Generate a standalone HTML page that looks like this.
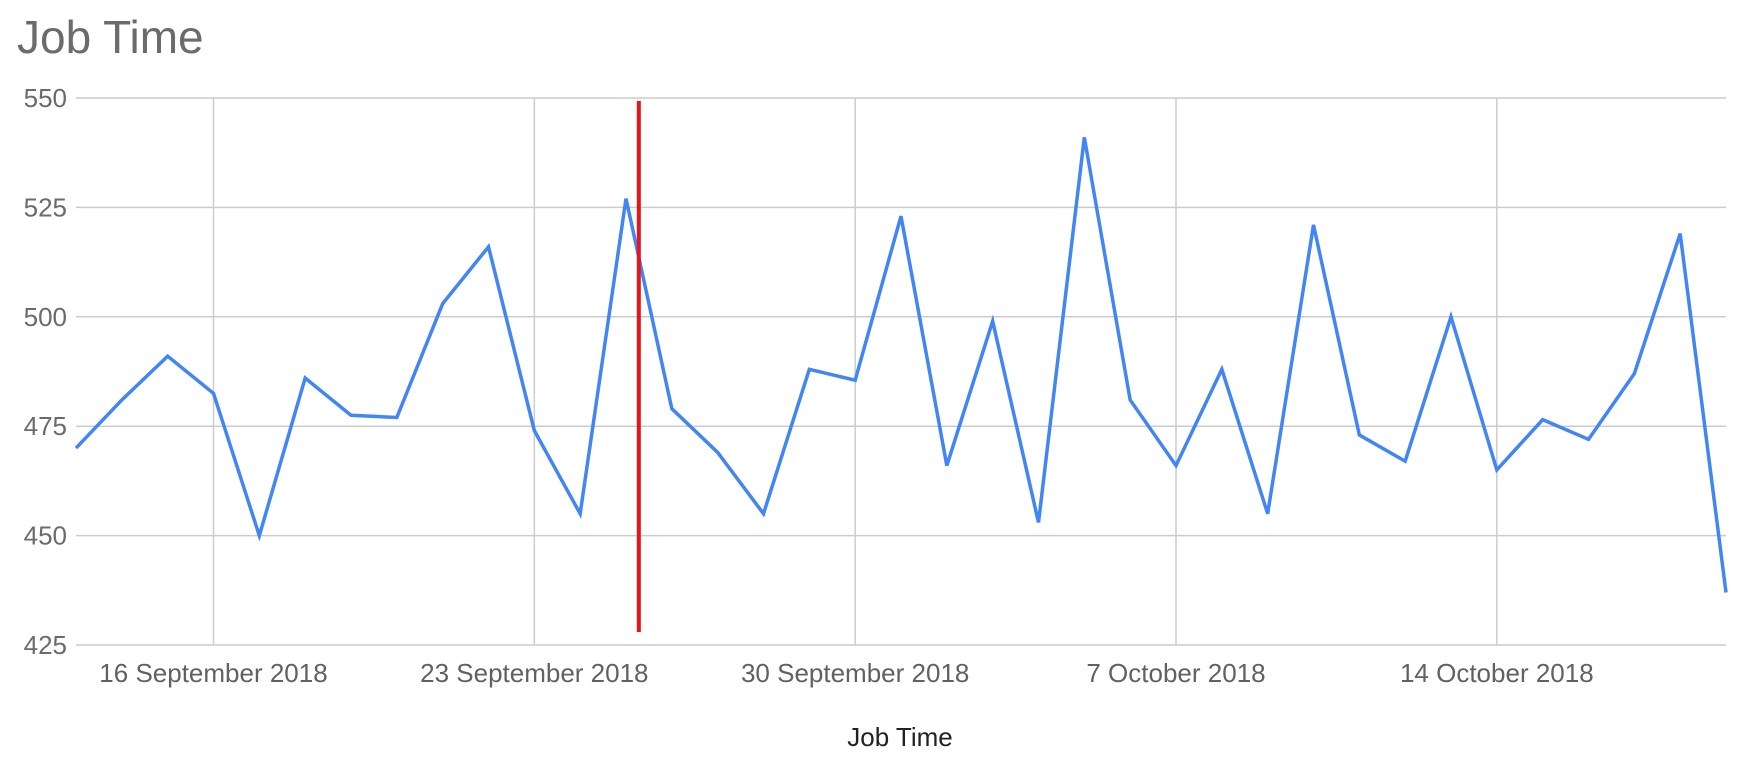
<!DOCTYPE html>
<html><head><meta charset="utf-8"><style>
html,body{margin:0;padding:0;background:#fff;}
svg{display:block;font-family:"Liberation Sans",Arial,sans-serif;}
</style></head><body>
<svg id="chart" width="1752" height="760">
<text x="17" y="53" font-size="46" fill="#6b6b6b">Job Time</text>
<g id="grid"></g><g id="marks"></g>
<text x="900" y="746" font-size="26" fill="#222" text-anchor="middle">Job Time</text>
</svg>
<script>
const values = [470,481,491,482.5,450,486,477.5,477,503,516,474,455,527,479,469,455,488,485.5,523,466,499,453,541,481,466,488,455,521,473,467,500,465,476.5,472,487,519,437];
const yTicks = [425,450,475,500,525,550];
const xTickDays = [3,10,17,24,31];
const xTickLabels = ["16 September 2018","23 September 2018","30 September 2018","7 October 2018","14 October 2018"];
const markerDay = 12.28;
const L=76,R=1726,T=98,B=645,NS="http://www.w3.org/2000/svg";
const xs=d=>L+(d/(values.length-1))*(R-L);
const ys=v=>B-(v-425)/125*(B-T);
const grid=document.getElementById('grid'),marks=document.getElementById('marks');
function mk(tag,attrs,parent){const e=document.createElementNS(NS,tag);for(const k in attrs)e.setAttribute(k,attrs[k]);parent.appendChild(e);return e;}
yTicks.forEach(v=>{
  const l=mk('line',{x1:L,x2:R,y1:ys(v),y2:ys(v),stroke:'#cccccc','stroke-width':1.5},grid);
  
  
  const t=mk('text',{x:67,y:ys(v)+9,'font-size':26,fill:'#6b6b6b','text-anchor':'end'},grid);
  t.textContent=v;
  
  
});
xTickDays.forEach((d,i)=>{
  const l=mk('line',{x1:xs(d),x2:xs(d),y1:T,y2:B,stroke:'#cccccc','stroke-width':1.5},grid);
  
  
  const t=mk('text',{x:xs(d),y:682,'font-size':26,fill:'#616161','text-anchor':'middle'},grid);
  t.textContent=xTickLabels[i];
  
  
});
const p=mk('polyline',{points:values.map((v,i)=>xs(i)+','+ys(v)).join(' '),fill:'none',stroke:'#4285f4','stroke-width':3.5,'stroke-linejoin':'miter'},marks);


const r=mk('line',{x1:xs(markerDay),x2:xs(markerDay),y1:101,y2:632,stroke:'#e8141c','stroke-width':4},marks);


</script>
</body></html>
